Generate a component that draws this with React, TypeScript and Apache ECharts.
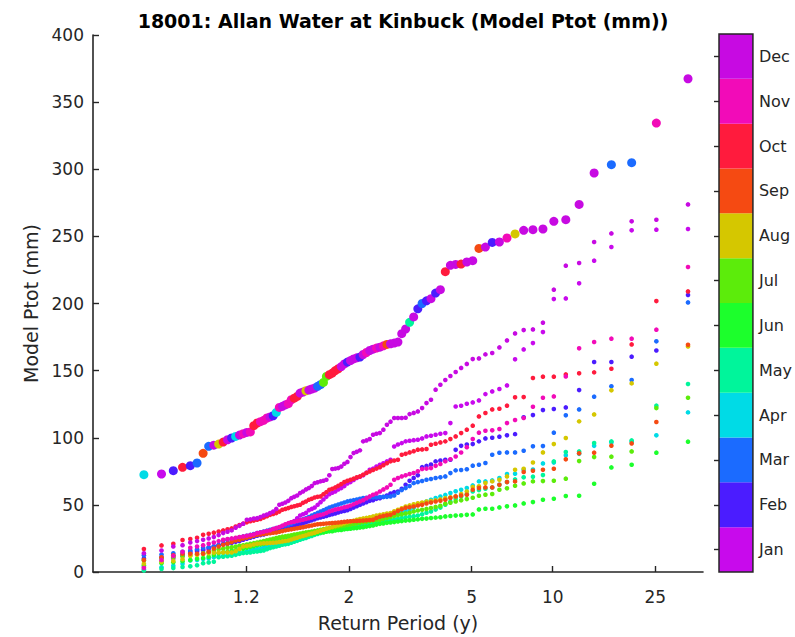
import { useEffect, useRef } from "react";
import * as echarts from "echarts";

const MONTHS = ["Jan", "Feb", "Mar", "Apr", "May", "Jun", "Jul", "Aug", "Sep", "Oct", "Nov", "Dec"];
const MONTH_COLORS = ["#c80aec", "#4b1cff", "#1b6bff", "#00dbe6", "#00f59b", "#1cff2c", "#5cec0b", "#d5c700", "#f54a12", "#ff1b3d", "#f20bb8", "#c70ae2"];
const RETURN_PERIOD_TICKS = [1.2, 2, 5, 10, 25];
const TITLE = "18001: Allan Water at Kinbuck (Model Ptot (mm))";

// Monthly maxima, sorted ascending (mm)
const JAN = [
  3.7, 8, 10, 12, 14, 15, 16, 17, 18.5, 20,
  21, 21.5, 22, 23, 23.5, 24.5, 25.5, 26, 27, 28,
  29, 29.5, 30, 31, 32, 32.5, 33, 34, 35, 36,
  37, 38, 40, 42, 43, 44, 46, 47, 48, 50,
  52, 54, 56, 58, 59, 60, 61.5, 62.5, 64, 66,
  67, 68.5, 70, 71, 72, 74, 76.2, 77, 78.5, 79.9,
  81, 82.4, 83.6, 93.5, 95, 96, 97.3, 97.8, 98.2, 98.5,
  99.5, 101, 101.5, 102.2, 103, 103.5, 110.9, 123.3, 123.8, 125.3,
  126.3, 127.8, 132.5, 134.5, 136.3, 139, 158.4, 165.8, 170.5, 178.7,
  203.3, 203.8, 215, 231.9, 242.1, 254.5, 255, 255.5,
];
const FEB = [
  10, 11, 12, 13, 15, 16, 17, 18, 19, 20,
  20.5, 21, 21.8, 22.5, 23, 24, 24.8, 25.5, 26.2, 27,
  27.5, 28, 28.6, 29.2, 29.8, 30.5, 31.2, 31.8, 32.4, 33,
  33.6, 34.2, 35, 35.6, 36.3, 37, 37.8, 38.5, 39.2, 40,
  40.6, 41.2, 41.8, 42.5, 43, 43.6, 44.3, 45, 45.5, 46,
  47, 48, 49, 50, 51, 52, 53, 53.5, 54.5, 55,
  56, 57, 58.5, 59.5, 60, 62, 65, 68, 70, 72,
  78.1, 79, 80, 82.4, 83, 83.6, 83.6, 91, 94, 95,
  95.3, 97.3, 99.5, 100, 100.8, 101.8, 102.7, 115.2, 116.9, 120.6,
  121.4, 122.6, 135.5, 156.4, 156.4, 160.4, 165, 206.3,
];
const MAR = [
  12.4, 13, 14, 15, 16, 17, 18, 18.5, 19.2, 20,
  23.5, 24, 24.5, 25, 25.8, 26.5, 27, 27.6, 28.3, 29,
  29.6, 30.2, 30.8, 31.5, 32, 32.7, 33.3, 34, 34.6, 35.2,
  36, 37, 37.8, 38.5, 39.3, 40, 41, 42, 43, 44,
  45, 46, 47, 48, 48.8, 49.5, 50.2, 51, 51.8, 52.6,
  53, 53.5, 54, 54.5, 55.1, 55.3, 55.5, 55.6, 55.7, 55.8,
  55.9, 56, 56.3, 57, 59, 61, 62.5, 64, 66.2, 67,
  67.8, 68.7, 69.3, 70, 70.5, 71.2, 73.7, 75.7, 76, 76.5,
  79.2, 79.9, 81.2, 87.3, 88.8, 89.1, 89.1, 90.3, 93.6, 93.8,
  103.8, 116.7, 121.1, 130.6, 138.3, 143, 171.8, 200.8,
];
const APR = [
  2, 3.5, 4.6, 6.2, 8.6, 8.9, 9.6, 10.1, 10.9, 11.6,
  11.9, 12.5, 12.8, 13.5, 14.2, 14.6, 15.4, 15.8, 16.5, 17.2,
  17.5, 18.3, 18.9, 19.2, 20.1, 20.7, 21.1, 21.9, 22.5, 23.1,
  23.4, 24.3, 24.9, 25.2, 26.1, 26.8, 27.1, 27.9, 28.6, 29.2,
  29.5, 30.3, 30.9, 31.2, 32.1, 32.8, 33.1, 33.9, 34.5, 35.1,
  35.4, 35.9, 36.5, 37.1, 37.6, 38.2, 38.5, 39.1, 39.6, 40.2,
  40.8, 41.5, 42.3, 43.1, 43.8, 44.6, 45.5, 46.4, 47.9, 50.1,
  51.2, 52.5, 53.8, 55.1, 56.2, 57.4, 58.8, 60.1, 61.3, 62.5,
  64.5, 67.5, 67.5, 68.2, 70, 73, 73.2, 76.2, 76.3, 80.9,
  81.5, 86.9, 88, 94, 96.5, 97, 101.8, 118.9,
];
const MAY = [
  1.2, 2.2, 2.9, 3.7, 4.2, 5, 6.6, 7.1, 7.6, 11,
  11.4, 11.8, 12.1, 12.8, 13.5, 14.1, 14.3, 14.6, 15, 15.3,
  15.7, 16.1, 17, 17.8, 18.4, 19, 19.6, 20.3, 20.6, 21,
  21.8, 22.5, 23.2, 24, 24.7, 25.4, 26.2, 26.9, 27.7, 28.3,
  29, 29.8, 30.6, 31.5, 31.9, 32.4, 32.8, 33.2, 33.6, 33.9,
  34.2, 34.5, 34.8, 35, 35.2, 35.5, 35.9, 36.3, 36.6, 37,
  37.5, 38, 38.6, 39.1, 39.7, 40.2, 40.7, 41.1, 41.6, 42,
  43, 44.2, 45.1, 46.5, 48, 50.1, 52.4, 54.5, 56.2, 58,
  60, 61, 62, 63, 65, 67, 69, 70.5, 71, 72.2,
  82.4, 89.4, 89.8, 96.1, 97.3, 98, 123.9, 140,
];
const JUN = [
  5, 6.5, 7.2, 8.1, 9, 9.8, 10.5, 11.3, 12.6, 14,
  14.5, 15.1, 15.8, 16.2, 16.9, 17.3, 18, 18.6, 19.2, 20,
  20.4, 20.9, 21.5, 22, 22.5, 23, 23.5, 24, 24.5, 25,
  25.3, 25.9, 26.1, 26.7, 27.1, 27.3, 27.9, 28.2, 28.5, 29,
  29.4, 29.5, 30, 30.3, 30.4, 30.9, 31.2, 31.3, 31.8, 32,
  32.3, 32.6, 32.7, 33.1, 33.4, 33.8, 34.2, 34.6, 35.3, 35.9,
  36.2, 36.6, 36.9, 37.2, 37.6, 37.9, 38.3, 38.5, 38.9, 39.2,
  39.6, 39.8, 40.2, 40.5, 40.8, 41.4, 41.7, 42, 42.3, 42.6,
  42.9, 46.6, 47.1, 47.1, 48.1, 48.9, 49.6, 51.1, 52.1, 53.8,
  54.6, 56.6, 56.8, 65.7, 77.9, 79.9, 88.9, 97.1,
];
const JUL = [
  8.7, 10, 11, 11.8, 12.3, 13, 13.9, 14.8, 15.8, 17,
  17.4, 18, 18.5, 19, 19.5, 19.9, 20.4, 21, 21.5, 22,
  22.5, 23.1, 23.6, 24.2, 24.7, 25.3, 25.8, 26.3, 26.6, 27,
  27.4, 27.9, 28.2, 28.6, 29.1, 29.5, 29.8, 30.2, 30.6, 31,
  31.4, 31.9, 32.3, 32.6, 33, 33.4, 33.8, 34.2, 34.6, 35,
  35.4, 35.8, 36.2, 36.6, 37, 37.5, 37.9, 38.3, 38.7, 39,
  39.6, 40.3, 41, 41.8, 42.5, 43.1, 43.6, 44.2, 45.1, 45.8,
  46.4, 47, 47.6, 48.5, 49.3, 50.8, 51.6, 52.5, 53.4, 54.3,
  55.3, 56.8, 57.6, 58.1, 61.3, 62.3, 64.3, 66, 67.5, 67.7,
  68, 69.5, 82.6, 85.6, 85.9, 89.8, 122.1, 129.8,
];
const AUG = [
  6.2, 7.5, 8.2, 9.5, 12.1, 12.8, 13.4, 13.9, 14.3, 14.6,
  14.6, 14.6, 14.6, 15.5, 17.2, 19, 19.4, 19.8, 20.4, 21,
  21.2, 21.5, 21.5, 21.6, 21.8, 22, 22.4, 22.8, 23.1, 23.5,
  24.2, 24.9, 25.5, 26.2, 26.8, 27.4, 28.1, 28.7, 29.3, 30,
  30.8, 31.5, 32.2, 32.9, 33.5, 34.2, 34.9, 35.6, 36.3, 37,
  37.6, 38.2, 38.9, 39.4, 39.9, 40.3, 40.8, 41.4, 42, 42.5,
  43, 43.5, 43.9, 45.2, 46.4, 47.5, 48.8, 49.6, 50.4, 51.2,
  51.8, 52.5, 52.9, 53.3, 54.1, 55, 55.6, 56.3, 58.1, 60,
  63.3, 63.8, 66.3, 67.5, 68.7, 71.2, 76.2, 76.9, 81.6, 89.1,
  95.3, 99.8, 112.2, 117.4, 135.3, 140.5, 155.2, 168,
];
const SEP = [
  9, 11, 12.4, 13.6, 13.6, 13.6, 13.6, 15, 17.5, 19,
  20.3, 21.2, 22.4, 23.5, 24.1, 24.9, 25.6, 26.3, 27, 27.7,
  28, 28.3, 28.6, 28.9, 29.2, 29.5, 30, 30.5, 31, 31.5,
  31.8, 32.2, 32.6, 33, 33.4, 33.8, 34.2, 34.6, 35.2, 35.5,
  35.7, 35.9, 36.1, 36.3, 36.5, 36.7, 36.9, 37.1, 37.4, 37.7,
  37.8, 37.9, 38, 38.2, 38.3, 38.5, 38.7, 39, 40.2, 41.2,
  41.8, 42.2, 42.6, 44, 45.5, 46.7, 47.8, 48.2, 48.8, 49.5,
  50.1, 51, 51.8, 52.5, 53.1, 53.8, 55.2, 56.3, 56.9, 57.5,
  61.3, 62.5, 63, 63, 65, 67, 67.5, 74.5, 75.4, 76.2,
  76.9, 83.9, 88.4, 88.9, 94.1, 95.8, 111.7, 169.3,
];
const OCT = [
  17.1, 19.8, 21, 23.8, 24.5, 25.5, 27.7, 28.5, 29.3, 30.2,
  31, 31.8, 32.5, 33.9, 35, 36, 37, 37.8, 38.3, 38.9,
  39.5, 40.5, 41.5, 42.6, 43.2, 43.9, 45, 46.4, 47, 47.6,
  48.5, 49, 49.6, 50.1, 51.5, 52.5, 53.8, 54.5, 55.5, 56,
  56.3, 58, 59.5, 61.3, 62, 63, 64.2, 65.5, 67, 68,
  68.7, 69.5, 70.5, 71.2, 72.5, 73.8, 74.9, 76, 77, 78.1,
  79.5, 81, 82.4, 83, 83.6, 87.3, 88, 89.1, 90, 91.1,
  91.3, 91.6, 94.8, 95.5, 96.5, 97.3, 99, 101, 103.5, 106,
  109, 115.9, 118.4, 121.1, 121.6, 123.9, 130.1, 130.3, 144.5, 145.5,
  145.5, 147.2, 148, 148.7, 151.4, 169.5, 201.8, 209,
];
const NOV = [
  3, 9, 12, 15, 18, 19, 20, 21, 22, 23,
  24, 24.5, 25, 25.5, 26, 26.5, 27, 27.5, 28, 29,
  29.5, 30, 30.5, 31, 32, 32.7, 33.5, 34.5, 35.5, 36.4,
  37, 37.5, 38, 38.5, 39, 39.5, 40, 40.5, 41.4, 42,
  42.5, 43, 44, 45.1, 45.8, 46.5, 47, 47.5, 48.2, 48.8,
  49.5, 50.5, 51.5, 52.6, 53.5, 55, 56.3, 57.5, 58.5, 60,
  61.5, 63, 65, 68.7, 70, 71.2, 72, 73, 73.7, 75,
  76.7, 77, 77.4, 79.1, 80.5, 82.4, 84, 86, 89, 93,
  99, 103.8, 105.2, 105.5, 106.5, 110.9, 113.2, 114.7, 123.1, 129.8,
  130.8, 145.7, 166.6, 171.3, 173.8, 173.8, 180.5, 227.2,
];
const DEC = [
  14, 16, 19, 20, 22, 23, 24, 25, 26, 27.5,
  29, 30, 31, 33, 34.4, 36, 38.9, 39.2, 39.8, 40.1,
  41, 42, 42.8, 43.9, 45, 47, 50.1, 50.8, 51.8, 53,
  55, 56, 57, 58.8, 60, 61.5, 62.5, 64, 66.2, 66.8,
  67.5, 68, 68.7, 72, 76.7, 77, 77.4, 78.5, 80.6, 82,
  85.6, 88.6, 89.5, 90.6, 97.3, 98, 99, 102.2, 103, 103.5,
  106, 109.7, 112, 114.7, 114.7, 114.7, 114.9, 117.6, 118.5, 119.6,
  122.1, 125.8, 128.3, 135.8, 139.5, 143, 146, 149, 152, 155,
  158.6, 159.1, 162.1, 163.1, 167.3, 172.5, 177.7, 180.2, 180.7, 185.7,
  210.3, 228.2, 230.2, 245.8, 252.2, 261.2, 262.4, 273.8,
];
const MONTHLY_MAXIMA = [JAN, FEB, MAR, APR, MAY, JUN, JUL, AUG, SEP, OCT, NOV, DEC];

// Annual maxima, sorted ascending (mm), with month of occurrence (1 = Jan)
const ANNUAL_MAX = [
  72.5, 73, 75.5, 78, 79.2, 81.2, 88.4, 93.6, 94.5, 95.3,
  96.8, 98.5, 99.8, 101, 102, 103, 104, 104.3, 109, 111,
  112, 113, 114.7, 115.5, 116.4, 118.9, 122.6, 123.4, 124.5, 125.4,
  128.3, 129.5, 130.8, 133.3, 134, 135, 135.5, 136.3, 137, 138.3,
  139.5, 141.2, 145.7, 147, 148.2, 150, 151.4, 153, 155, 156.4,
  157.5, 158.7, 159.5, 160.1, 162, 163.5, 165, 166, 166.8, 167.5,
  168.5, 169.5, 170, 170.5, 171.3, 177.5, 181, 186, 190, 196,
  200, 202, 203.6, 207.8, 210.3, 223.7, 228.4, 229.1, 229.4, 230.9,
  231.9, 241, 242, 245.5, 245.8, 248.8, 251.8, 254.5, 255, 255.5,
  261.2, 262.4, 273.8, 297.2, 303.4, 304.9, 334.4, 367.4,
];
const ANNUAL_MAX_MONTH = [
  4, 1, 2, 10, 2, 3, 9, 3, 12, 8,
  10, 12, 2, 4, 12, 11, 12, 11, 10, 10,
  11, 11, 11, 12, 2, 4, 11, 12, 12, 11,
  11, 10, 10, 12, 12, 8, 12, 12, 12, 3,
  3, 7, 7, 10, 10, 10, 10, 12, 12, 2,
  12, 12, 12, 2, 12, 11, 12, 12, 11, 12,
  11, 9, 12, 12, 12, 12, 12, 5, 12, 2,
  3, 2, 12, 2, 12, 10, 12, 12, 10, 12,
  12, 9, 12, 2, 12, 11, 8, 12, 12, 12,
  12, 12, 12, 12, 3, 3, 11, 12,
];

// Gumbel reduced variate for a return period, and the plotting position of a rank
const gumbelVariate = (T: number) => -Math.log(-Math.log(1 - 1 / T));
const rankVariate = (rank: number, count: number) => -Math.log(-Math.log(rank / (count + 3)));

const TICK_VARIATES = RETURN_PERIOD_TICKS.map(gumbelVariate);
const FONT = "DejaVu Sans";
const INK = "#262626";

export default function App() {
  const ref = useRef<HTMLDivElement>(null);
  useEffect(() => {
    if (!ref.current) return;
    const chart = echarts.init(ref.current, undefined, { renderer: "svg" });

    const monthlySeries = MONTHLY_MAXIMA.map((vals, m) => ({
      type: "scatter",
      name: MONTHS[m],
      xAxisIndex: 0,
      yAxisIndex: 0,
      data: vals.map((v, k) => [rankVariate(k + 1, vals.length), v]),
      symbolSize: 4.6,
      itemStyle: { color: MONTH_COLORS[m], opacity: 1 },
      z: 2,
      silent: true,
    }));

    const annualSeries = {
      type: "scatter",
      name: "Annual maximum",
      xAxisIndex: 0,
      yAxisIndex: 0,
      data: ANNUAL_MAX.map((v, k) => ({
        value: [rankVariate(k + 1, ANNUAL_MAX.length), v],
        itemStyle: { color: MONTH_COLORS[ANNUAL_MAX_MONTH[k] - 1] },
      })),
      symbolSize: 9,
      itemStyle: { opacity: 1 },
      z: 3,
      silent: true,
    };

    const colorbarSeries = {
      type: "bar",
      xAxisIndex: 1,
      yAxisIndex: 1,
      data: MONTHS.map((_, i) => ({ value: 1, itemStyle: { color: MONTH_COLORS[i] } })),
      barWidth: "100%",
      barCategoryGap: "0%",
      silent: true,
      z: 1,
    };

    chart.setOption({
      animation: false,
      backgroundColor: "#ffffff",
      textStyle: { fontFamily: FONT },
      title: {
        text: TITLE,
        left: 398,
        textAlign: "center",
        top: 6,
        textStyle: { fontFamily: FONT, fontSize: 19, fontWeight: "bold", color: "#000" },
      },
      grid: [
        { left: 93, top: 35, width: 610, height: 537, containLabel: false },
        { left: 719, top: 34, width: 38, height: 538, show: true, borderColor: INK, borderWidth: 1.5, backgroundColor: "transparent", z: 10 },
      ],
      xAxis: [
        {
          type: "value",
          gridIndex: 0,
          min: -2,
          max: 3.64,
          name: "Return Period (y)",
          nameLocation: "middle",
          nameGap: 41,
          nameTextStyle: { fontFamily: FONT, fontSize: 19, color: INK },
          axisLine: { show: true, onZero: false, lineStyle: { color: INK, width: 1.6 } },
          axisTick: { show: true, inside: true, length: 6, customValues: TICK_VARIATES, lineStyle: { color: INK, width: 1.4 } },
          axisLabel: {
            customValues: TICK_VARIATES,
            margin: 16,
            fontFamily: FONT,
            fontSize: 17,
            color: INK,
            formatter: (val: number) => {
              const idx = TICK_VARIATES.findIndex((t) => Math.abs(t - val) < 1e-6);
              return idx >= 0 ? String(RETURN_PERIOD_TICKS[idx]) : "";
            },
          },
          splitLine: { show: false },
        },
        { type: "value", gridIndex: 1, min: 0, max: 1, show: false },
      ],
      yAxis: [
        {
          type: "value",
          gridIndex: 0,
          min: 0,
          max: 400,
          interval: 50,
          name: "Model Ptot (mm)",
          nameLocation: "middle",
          nameGap: 49,
          nameRotate: 90,
          nameTextStyle: { fontFamily: FONT, fontSize: 19, color: INK },
          axisLine: { show: true, onZero: false, lineStyle: { color: INK, width: 1.6 } },
          axisTick: { show: true, inside: true, length: 6, lineStyle: { color: INK, width: 1.4 } },
          axisLabel: { margin: 9, fontFamily: FONT, fontSize: 17, color: INK },
          splitLine: { show: false },
        },
        {
          type: "category",
          gridIndex: 1,
          data: MONTHS,
          position: "right",
          boundaryGap: true,
          z: 12,
          axisLine: { show: false },
          axisTick: { show: true, inside: true, alignWithLabel: true, length: 5, lineStyle: { color: INK, width: 1.4 } },
          axisLabel: { margin: 6, fontFamily: FONT, fontSize: 16, color: INK },
          splitLine: { show: false },
        },
      ],
      series: [...monthlySeries, annualSeries, colorbarSeries],
    });
    return () => chart.dispose();
  }, []);
  return <div ref={ref} style={{ position: "fixed", left: 0, top: 0, width: 795, height: 637 }} />;
}
